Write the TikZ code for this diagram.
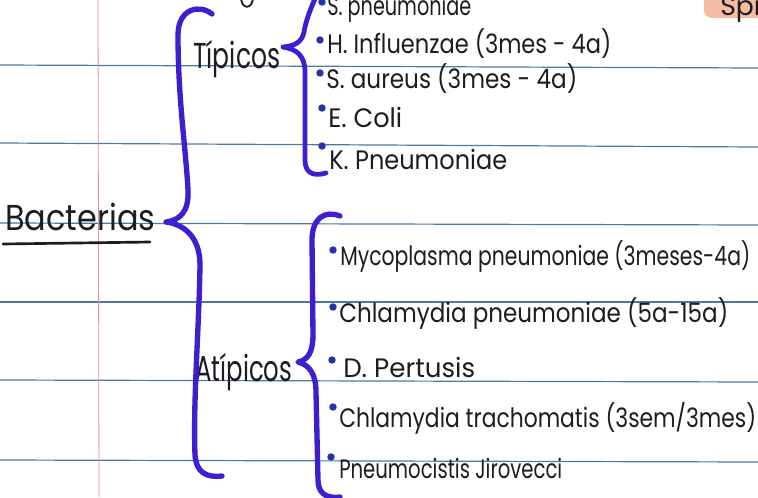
\documentclass[tikz,border=0pt]{standalone}
\usepackage{fontspec}
\setmainfont{Poppins}
\usepackage{graphicx}
\newlength\pxu
\setlength\pxu{0.75pt}
\newcommand{\fitto}[2]{\resizebox{#1\pxu}{\height}{#2}}
\definecolor{ink}{RGB}{28,28,34}
\definecolor{marker}{RGB}{64,30,208}
\definecolor{bulletcol}{RGB}{40,52,165}
\definecolor{linecol}{RGB}{78,122,162}
\definecolor{margincol}{RGB}{210,150,150}
\definecolor{peach}{RGB}{244,188,160}
\begin{document}
\begin{tikzpicture}[x=0.75pt,y=-0.75pt,
  paperline/.style={draw=linecol,line width=0.9pt},
  marginline/.style={draw=margincol,line width=0.6pt},
  brace/.style={draw=marker,line width=4pt,line cap=round,line join=round},
  underl/.style={draw=ink,line width=2pt,line cap=round},
  itemtxt/.style={anchor=base west,inner sep=0pt,text=ink,font=\fontsize{20}{22}\selectfont},
  headtxt/.style={anchor=base west,inner sep=0pt,text=ink,font=\fontsize{27}{30}\selectfont},
  dot/.style={fill=bulletcol}]
\useasboundingbox (0,0) rectangle (758,497);
\clip (0,0) rectangle (758,497);
\fill[white] (0,0) rectangle (758,497);
% paper
\draw[paperline] (0,65) -- (758,68);
\draw[paperline] (0,143) -- (758,147);
\draw[paperline] (0,223) -- (758,225);
\draw[paperline] (0,302) -- (758,302);
\draw[paperline] (0,380) -- (758,382);
\draw[paperline] (0,460) -- (758,462);
\draw[marginline] (98,0) -- (99,497);
% cropped bits at the top
\fill[peach,rounded corners=6pt] (704,-12) rectangle (772,18);
\node[itemtxt] (spr) at (720,15) {Spr};
\draw[ink,line width=1.4pt,line cap=round] (241,-3) .. controls (241,10) and (253,10) .. (253,-3);
% headings
\node[headtxt] (bact) at (5,230) {\fitto{150}{Bacterias}};
\draw[underl] (3,244) -- (150,242);
\node[headtxt] (tip) at (193,68) {\fitto{87}{Típicos}};
\node[headtxt] (atip) at (195,381) {\fitto{97}{Atípicos}};
% braces
\coordinate (bc) at (166,222);
\coordinate (tc) at (283,47);
\coordinate (ac) at (298,362);
\draw[brace] (212,14) .. controls (200,4) and (178,8) .. (178,35)
  .. controls (178,100) and (186,150) .. (188,190)
  .. controls (189,212) and (180,220) .. (bc)
  .. controls (182,224) and (200,235) .. (200,265)
  .. controls (199,330) and (193,400) .. (195,455)
  .. controls (196,472) and (206,478) .. (222,476);
\draw[brace,line width=3.6pt] (318,-8) .. controls (310,10) and (306,20) .. (304,32)
  .. controls (302,42) and (295,46) .. (tc)
  .. controls (296,49) and (305,55) .. (305,72)
  -- (305,160) .. controls (305,172) and (312,177) .. (326,173);
\draw[brace] (340,216) .. controls (325,210) and (312,218) .. (312,240)
  -- (313,335) .. controls (313,352) and (308,360) .. (ac)
  .. controls (310,365) and (316,375) .. (316,392)
  -- (318,480) .. controls (318,492) and (325,499) .. (340,497);
% tipicos items
\fill[dot] (322,2) circle (2.8pt);
\node[itemtxt] (t1) at (327,15) {\fitto{144}{S. pneumoniae}};
\fill[dot] (320,40) circle (2.8pt);
\node[itemtxt] (t2) at (327,53) {\fitto{284}{H. Influenzae (3mes - 4a)}};
\fill[dot] (320,73) circle (2.8pt);
\node[itemtxt] (t3) at (326,88) {\fitto{251}{S. aureus (3mes - 4a)}};
\fill[dot] (322,108) circle (2.8pt);
\node[itemtxt] (t4) at (328,127) {\fitto{74}{E. Coli}};
\fill[dot] (322,146) circle (2.8pt);
\node[itemtxt] (t5) at (329,169) {\fitto{178}{K. Pneumoniae}};
% atipicos items
\fill[dot] (333,250) circle (2.8pt);
\node[itemtxt] (a1) at (340,265) {\fitto{410}{Mycoplasma pneumoniae (3meses-4a)}};
\fill[dot] (333,307) circle (2.8pt);
\node[itemtxt] (a2) at (339,322) {\fitto{389}{Chlamydia pneumoniae (5a-15a)}};
\fill[dot] (332,360) circle (2.8pt);
\node[itemtxt] (a3) at (343,377) {\fitto{132}{D. Pertusis}};
\fill[dot] (333,407) circle (2.8pt);
\node[itemtxt] (a4) at (339,427) {\fitto{417}{Chlamydia trachomatis (3sem/3mes)}};
\fill[dot] (331,457) circle (2.8pt);
\node[itemtxt] (a5) at (339,478) {\fitto{223}{Pneumocistis Jirovecci}};
\end{tikzpicture}
\end{document}
